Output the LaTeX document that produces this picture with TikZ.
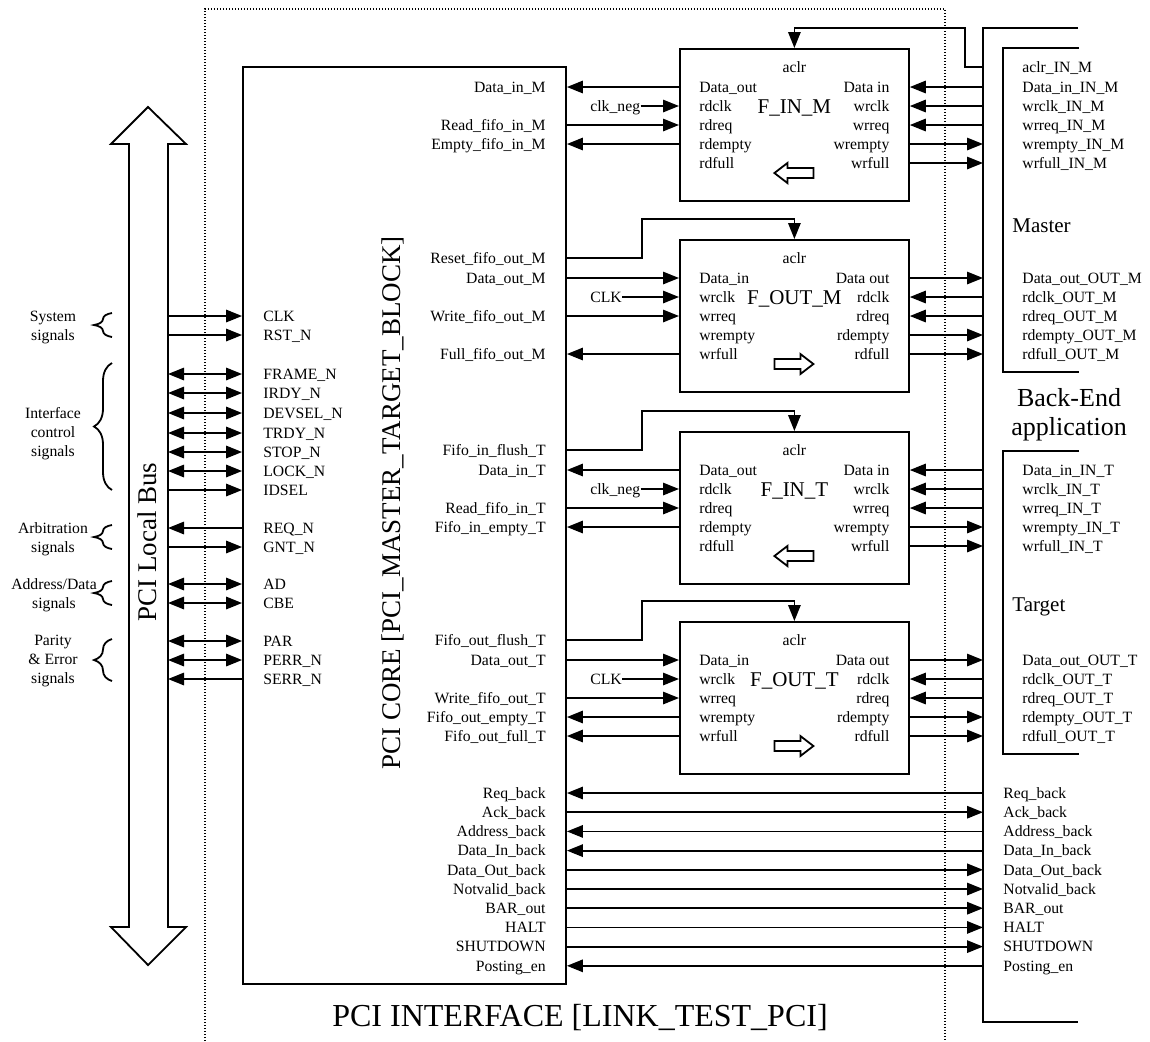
\documentclass[tikz,border=0pt]{standalone}
\usepackage{fontspec}
\setmainfont{Liberation Serif}
\usetikzlibrary{arrows.meta,positioning,decorations.pathreplacing,calc,fit}

\begin{document}
\begin{tikzpicture}[x=0.5pt,y=-0.5pt,
  port/.style={font=\fontsize{7.85pt}{9.5pt}\selectfont,inner sep=0pt,text height=5.2pt,text depth=0pt},
  grp/.style={font=\fontsize{7.85pt}{9.5pt}\selectfont,inner sep=0pt,align=center},
  fname/.style={font=\fontsize{10.5pt}{12pt}\selectfont,inner sep=0pt,text height=6.9pt,text depth=0pt},
  part/.style={font=\fontsize{10.5pt}{12pt}\selectfont,inner sep=0pt,anchor=base west},
  big/.style={font=\fontsize{13.5pt}{16pt}\selectfont,inner sep=0pt},
  title/.style={font=\fontsize{16pt}{19pt}\selectfont,inner sep=0pt,text height=10.6pt,text depth=0pt},
  fifo/.style={draw,line width=0.9pt,minimum width=114.5pt,minimum height=76pt,anchor=north west,inner sep=0pt},
  link/.style={line width=0.9pt},
  fwd/.style={-{Triangle[length=8pt,width=6.2pt]}},
  bwd/.style={{Triangle[length=8pt,width=6.2pt]}-},
  bi/.style={{Triangle[length=8pt,width=6.2pt]}-{Triangle[length=8pt,width=6.2pt]}},
  grpbrace/.style={line width=0.9pt,decorate,decoration={brace,amplitude=9pt}},
  frame/.style={line width=0.6pt,dash pattern=on 0.6pt off 0.9pt}]
  \useasboundingbox (0,0) rectangle (1150,1041);

  % PCI interface frame
  \draw[frame] (205,1041) -- (205,9) -- (945,9) -- (945,1041);
  \node[title] (ifl) at (580,1016) {PCI INTERFACE\ [LINK\_TEST\_PCI]};

  % PCI core
  \node[draw,line width=0.9pt,inner sep=0pt,fit={(243,67) (566,984)}] (core) {};
  \node[big,rotate=90] (corel) at (393,503) {PCI CORE [PCI\_MASTER\_TARGET\_BLOCK]};

  % PCI local bus
  \draw[link] (148,107) -- (186,144) -- (168,144) -- (168,927) -- (186,927) -- (148,965)
    -- (111,927) -- (129,927) -- (129,144) -- (111,144) -- cycle;
  \coordinate (bus) at (168,144);
  \node[big,rotate=90] (busl) at (147,542) {PCI Local Bus};
  \foreach \y/\sig/\dir in {316/CLK/fwd,335/RST\_N/fwd,374/FRAME\_N/bi,393/IRDY\_N/bi,
      413/DEVSEL\_N/bi,433/TRDY\_N/bi,452/STOP\_N/bi,471/LOCK\_N/bi,490/IDSEL/fwd,
      528/REQ\_N/bwd,547/GNT\_N/fwd,584/AD/bi,603/CBE/bi,641/PAR/bi,660/PERR\_N/bi,679/SERR\_N/bwd} {
    \node[port,anchor=west] (pci\y) at (263,\y) {\sig};
    \draw[link,\dir] (bus |- pci\y) -- (core.west |- pci\y);
  }

  % signal groups
  \node[grp] (gsys) at (53,327) {System\\signals};
  \node[grp] (gifc) at (53,434) {Interface\\control\\signals};
  \node[grp] (garb) at (53,539) {Arbitration\\signals};
  \node[grp] (gad) at (54,595) {Address/Data\\signals};
  \node[grp] (gpar) at (53,661) {Parity\\\& Error\\signals};
  \draw[grpbrace] (112,337) -- (112,313);
  \draw[grpbrace] (112,490) -- (112,363);
  \draw[grpbrace] (112,549) -- (112,525);
  \draw[grpbrace] (112,605) -- (112,581);
  \draw[grpbrace] (112,681) -- (112,639);

  % back-end application
  \coordinate (app) at (983,28);
  \draw[link] (1078,28) -- (app) -- (983,1022) -- (1078,1022);
  \draw[link] (1079,48) -- (1003,48) -- (1003,372) -- (1079,372);
  \draw[link] (1079,451) -- (1003,451) -- (1003,754) -- (1079,754);
  \node[part] (mst) at (1012,232) {Master};
  \node[part] (tgt) at (1012,611) {Target};
  \node[font=\fontsize{13pt}{14.5pt}\selectfont,align=center,inner sep=0pt] (appl) at (1069,415) {Back-End\\application};

  % F_IN_M
  \node[fifo] (finm) at (679,48) {};
  \node[port] (finm-a) at ($(finm.north)+(0,19)$) {aclr};
  \node[fname] (finm-n) at ($(finm.north)+(0,59)$) {F\_IN\_M};
  \foreach \lp/\rp [count=\k from 0] in {Data\_out/Data in,rdclk/wrclk,rdreq/wrreq,rdempty/wrempty,rdfull/wrfull} {
    \node[port,anchor=west] (finm-l\k) at ($(finm.north west)+(20,{39+19*\k})$) {\lp};
    \node[port,anchor=east] (finm-r\k) at ($(finm.north east)+(-20,{39+19*\k})$) {\rp};
  }
  \draw[link] ($(finm.north)+(-20,125)$) -- ++(13,-10) -- ++(0,5) -- ++(26,0) -- ++(0,10) -- ++(-26,0) -- ++(0,5) -- cycle;
  \node[port,anchor=east] (dinM) at (546,0 |- finm-l0) {Data\_in\_M};
  \node[port,anchor=west] (clknM) at (590,0 |- finm-l1) {clk\_neg};
  \node[port,anchor=east] (rdM) at (546,0 |- finm-l2) {Read\_fifo\_in\_M};
  \node[port,anchor=east] (empM) at (546,0 |- finm-l3) {Empty\_fifo\_in\_M};
  \draw[link,bwd] (core.east |- dinM) -- (finm.west |- dinM);
  \draw[link,fwd] (clknM) -- (finm.west |- clknM);
  \draw[link,fwd] (core.east |- rdM) -- (finm.west |- rdM);
  \draw[link,bwd] (core.east |- empM) -- (finm.west |- empM);
  \node[port,anchor=west] (aclrIM) at (1022,0 |- finm-a) {aclr\_IN\_M};
  \foreach \sig/\dir [count=\k from 0] in {Data\_in\_IN\_M/bwd,wrclk\_IN\_M/bwd,wrreq\_IN\_M/bwd,wrempty\_IN\_M/fwd,wrfull\_IN\_M/fwd} {
    \node[port,anchor=west] (im\k) at (1022,0 |- finm-r\k) {\sig};
    \draw[link,\dir] (finm.east |- im\k) -- (app |- im\k);
  }
  \draw[link,fwd] (app |- aclrIM) -- ++(-18,0) |- ($(finm.north)+(0,-20)$) -- (finm.north);

  % F_OUT_M
  \node[fifo] (foutm) at (679,239) {};
  \node[port] (foutm-a) at ($(foutm.north)+(0,19)$) {aclr};
  \node[fname] (foutm-n) at ($(foutm.north)+(0,59)$) {F\_OUT\_M};
  \foreach \lp/\rp [count=\k from 0] in {Data\_in/Data out,wrclk/rdclk,wrreq/rdreq,wrempty/rdempty,wrfull/rdfull} {
    \node[port,anchor=west] (foutm-l\k) at ($(foutm.north west)+(20,{39+19*\k})$) {\lp};
    \node[port,anchor=east] (foutm-r\k) at ($(foutm.north east)+(-20,{39+19*\k})$) {\rp};
  }
  \draw[link] ($(foutm.north)+(19,125)$) -- ++(-13,-10) -- ++(0,5) -- ++(-26,0) -- ++(0,10) -- ++(26,0) -- ++(0,5) -- cycle;
  \node[port,anchor=east] (rstM) at (546,0 |- foutm-a) {Reset\_fifo\_out\_M};
  \node[port,anchor=east] (doutM) at (546,0 |- foutm-l0) {Data\_out\_M};
  \node[port,anchor=west] (clkM) at (590,0 |- foutm-l1) {CLK};
  \node[port,anchor=east] (wrM) at (546,0 |- foutm-l2) {Write\_fifo\_out\_M};
  \node[port,anchor=east] (fullM) at (546,0 |- foutm-l4) {Full\_fifo\_out\_M};
  \draw[link,fwd] (core.east |- rstM) -- ++(75,0) |- ($(foutm.north)+(0,-20)$) -- (foutm.north);
  \draw[link,fwd] (core.east |- doutM) -- (foutm.west |- doutM);
  \draw[link,fwd] (clkM) -- (foutm.west |- clkM);
  \draw[link,fwd] (core.east |- wrM) -- (foutm.west |- wrM);
  \draw[link,bwd] (core.east |- fullM) -- (foutm.west |- fullM);
  \foreach \sig/\dir [count=\k from 0] in {Data\_out\_OUT\_M/fwd,rdclk\_OUT\_M/bwd,rdreq\_OUT\_M/bwd,rdempty\_OUT\_M/fwd,rdfull\_OUT\_M/fwd} {
    \node[port,anchor=west] (om\k) at (1022,0 |- foutm-r\k) {\sig};
    \draw[link,\dir] (foutm.east |- om\k) -- (app |- om\k);
  }

  % F_IN_T
  \node[fifo] (fint) at (679,431) {};
  \node[port] (fint-a) at ($(fint.north)+(0,19)$) {aclr};
  \node[fname] (fint-n) at ($(fint.north)+(0,59)$) {F\_IN\_T};
  \foreach \lp/\rp [count=\k from 0] in {Data\_out/Data in,rdclk/wrclk,rdreq/wrreq,rdempty/wrempty,rdfull/wrfull} {
    \node[port,anchor=west] (fint-l\k) at ($(fint.north west)+(20,{39+19*\k})$) {\lp};
    \node[port,anchor=east] (fint-r\k) at ($(fint.north east)+(-20,{39+19*\k})$) {\rp};
  }
  \draw[link] ($(fint.north)+(-20,125)$) -- ++(13,-10) -- ++(0,5) -- ++(26,0) -- ++(0,10) -- ++(-26,0) -- ++(0,5) -- cycle;
  \node[port,anchor=east] (flIT) at (546,0 |- fint-a) {Fifo\_in\_flush\_T};
  \node[port,anchor=east] (dinT) at (546,0 |- fint-l0) {Data\_in\_T};
  \node[port,anchor=west] (clknT) at (590,0 |- fint-l1) {clk\_neg};
  \node[port,anchor=east] (rdT) at (546,0 |- fint-l2) {Read\_fifo\_in\_T};
  \node[port,anchor=east] (empT) at (546,0 |- fint-l3) {Fifo\_in\_empty\_T};
  \draw[link,fwd] (core.east |- flIT) -- ++(75,0) |- ($(fint.north)+(0,-20)$) -- (fint.north);
  \draw[link,bwd] (core.east |- dinT) -- (fint.west |- dinT);
  \draw[link,fwd] (clknT) -- (fint.west |- clknT);
  \draw[link,fwd] (core.east |- rdT) -- (fint.west |- rdT);
  \draw[link,bwd] (core.east |- empT) -- (fint.west |- empT);
  \foreach \sig/\dir [count=\k from 0] in {Data\_in\_IN\_T/bwd,wrclk\_IN\_T/bwd,wrreq\_IN\_T/bwd,wrempty\_IN\_T/fwd,wrfull\_IN\_T/fwd} {
    \node[port,anchor=west] (it\k) at (1022,0 |- fint-r\k) {\sig};
    \draw[link,\dir] (fint.east |- it\k) -- (app |- it\k);
  }

  % F_OUT_T
  \node[fifo] (foutt) at (679,621) {};
  \node[port] (foutt-a) at ($(foutt.north)+(0,19)$) {aclr};
  \node[fname] (foutt-n) at ($(foutt.north)+(0,59)$) {F\_OUT\_T};
  \foreach \lp/\rp [count=\k from 0] in {Data\_in/Data out,wrclk/rdclk,wrreq/rdreq,wrempty/rdempty,wrfull/rdfull} {
    \node[port,anchor=west] (foutt-l\k) at ($(foutt.north west)+(20,{39+19*\k})$) {\lp};
    \node[port,anchor=east] (foutt-r\k) at ($(foutt.north east)+(-20,{39+19*\k})$) {\rp};
  }
  \draw[link] ($(foutt.north)+(19,125)$) -- ++(-13,-10) -- ++(0,5) -- ++(-26,0) -- ++(0,10) -- ++(26,0) -- ++(0,5) -- cycle;
  \node[port,anchor=east] (flOT) at (546,0 |- foutt-a) {Fifo\_out\_flush\_T};
  \node[port,anchor=east] (doutT) at (546,0 |- foutt-l0) {Data\_out\_T};
  \node[port,anchor=west] (clkT) at (590,0 |- foutt-l1) {CLK};
  \node[port,anchor=east] (wrT) at (546,0 |- foutt-l2) {Write\_fifo\_out\_T};
  \node[port,anchor=east] (eOT) at (546,0 |- foutt-l3) {Fifo\_out\_empty\_T};
  \node[port,anchor=east] (fOT) at (546,0 |- foutt-l4) {Fifo\_out\_full\_T};
  \draw[link,fwd] (core.east |- flOT) -- ++(75,0) |- ($(foutt.north)+(0,-20)$) -- (foutt.north);
  \draw[link,fwd] (core.east |- doutT) -- (foutt.west |- doutT);
  \draw[link,fwd] (clkT) -- (foutt.west |- clkT);
  \draw[link,fwd] (core.east |- wrT) -- (foutt.west |- wrT);
  \draw[link,bwd] (core.east |- eOT) -- (foutt.west |- eOT);
  \draw[link,bwd] (core.east |- fOT) -- (foutt.west |- fOT);
  \foreach \sig/\dir [count=\k from 0] in {Data\_out\_OUT\_T/fwd,rdclk\_OUT\_T/bwd,rdreq\_OUT\_T/bwd,rdempty\_OUT\_T/fwd,rdfull\_OUT\_T/fwd} {
    \node[port,anchor=west] (ot\k) at (1022,0 |- foutt-r\k) {\sig};
    \draw[link,\dir] (foutt.east |- ot\k) -- (app |- ot\k);
  }

  % back-end handshake signals
  \foreach \sig/\dir [count=\i from 0] in {Req\_back/bwd,Ack\_back/fwd,Address\_back/bwd,Data\_In\_back/bwd,
      Data\_Out\_back/fwd,Notvalid\_back/fwd,BAR\_out/fwd,HALT/fwd,SHUTDOWN/fwd,Posting\_en/bwd} {
    \node[port,anchor=east] (bk\i) at (546,{793+19.2*\i}) {\sig};
    \node[port,anchor=west] (ba\i) at (1003,{793+19.2*\i}) {\sig};
    \draw[link,\dir] (core.east |- bk\i) -- (app |- bk\i);
  }
\end{tikzpicture}
\end{document}
